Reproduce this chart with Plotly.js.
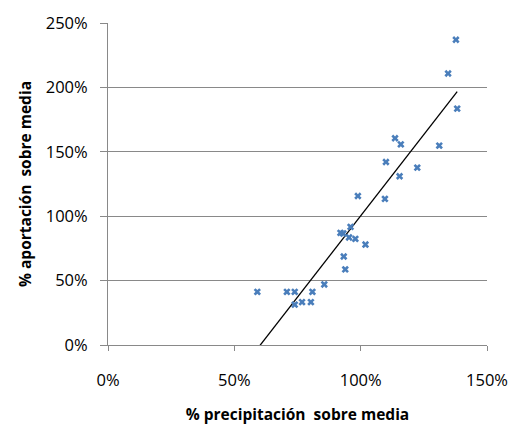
<!DOCTYPE html>
<html>
<head>
<meta charset="utf-8">
<script src="https://cdn.plot.ly/plotly-3.0.1.min.js"></script>
<style>html,body{margin:0;padding:0;background:#fff;}#chart{width:511px;height:425px;}</style>
</head>
<body>
<div id="chart"></div>
<script>
// % precipitación sobre media (x) and % aportación sobre media (y), as fractions
var precipitacion = [1.377,1.346,1.382,1.136,1.159,1.311,1.100,1.224,1.154,0.989,1.096,0.960,0.920,0.931,0.954,0.979,1.019,0.933,0.939,0.856,0.591,0.708,0.739,0.809,0.739,0.768,0.803];
var aportacion    = [2.370,2.108,1.835,1.605,1.558,1.548,1.421,1.377,1.310,1.157,1.134,0.917,0.871,0.866,0.835,0.824,0.780,0.687,0.587,0.470,0.413,0.413,0.413,0.413,0.313,0.333,0.333];
var xTicks = [0, 0.5, 1.0, 1.5];
var yTicks = [0, 0.5, 1.0, 1.5, 2.0, 2.5];

// linear least-squares trendline
var n = precipitacion.length, mx = 0, my = 0;
for (var i = 0; i < n; i++) { mx += precipitacion[i]; my += aportacion[i]; }
mx /= n; my /= n;
var sxy = 0, sxx = 0;
for (var i = 0; i < n; i++) { sxy += (precipitacion[i]-mx)*(aportacion[i]-my); sxx += (precipitacion[i]-mx)*(precipitacion[i]-mx); }
var slope = sxy/sxx, intercept = my - slope*mx;
var xMin = Math.min.apply(null, precipitacion), xMax = Math.max.apply(null, precipitacion);
var trendX = [xMin, xMax];
var trendY = trendX.map(function(v){ return intercept + slope*v; });

var font = "'Open Sans', Lato, sans-serif";
var data = [
  {x: trendX, y: trendY, mode: 'lines', type: 'scatter', line: {color: '#000', width: 1.3}, hoverinfo: 'skip', cliponaxis: true},
  {x: precipitacion, y: aportacion, mode: 'markers', type: 'scatter',
   marker: {symbol: 'x', size: 6.5, color: '#4A7EBB', line: {width: 0}}}
];
var layout = {
  width: 511, height: 425,
  margin: {l: 108, r: 24, t: 23, b: 80},
  paper_bgcolor: '#fff', plot_bgcolor: '#fff',
  showlegend: false,
  font: {family: font, size: 16.5, color: '#000'},
  xaxis: {
    range: [0, 1.5], tickvals: xTicks, tickformat: '.0%',
    showgrid: false, zeroline: false,
    showline: true, linecolor: '#898989', linewidth: 1,
    ticks: 'outside', ticklen: 5, tickcolor: '#898989', tickwidth: 1,
    ticklabelstandoff: 15,
    title: {text: '% precipitación  sobre media', font: {family: font, size: 15.5, color: '#000', weight: 'bold'}, standoff: 19}
  },
  yaxis: {
    range: [0, 2.5], tickvals: yTicks, tickformat: '.0%',
    showgrid: true, gridcolor: '#898989', gridwidth: 1, zeroline: false,
    showline: true, linecolor: '#898989', linewidth: 1,
    ticks: 'outside', ticklen: 7, tickcolor: '#898989', tickwidth: 1,
    ticklabelstandoff: 9,
    title: {text: '% aportación  sobre media', font: {family: font, size: 15.5, color: '#000', weight: 'bold'}, standoff: 10}
  }
};
Plotly.newPlot('chart', data, layout, {displayModeBar: false, staticPlot: true});
</script>
</body>
</html>
